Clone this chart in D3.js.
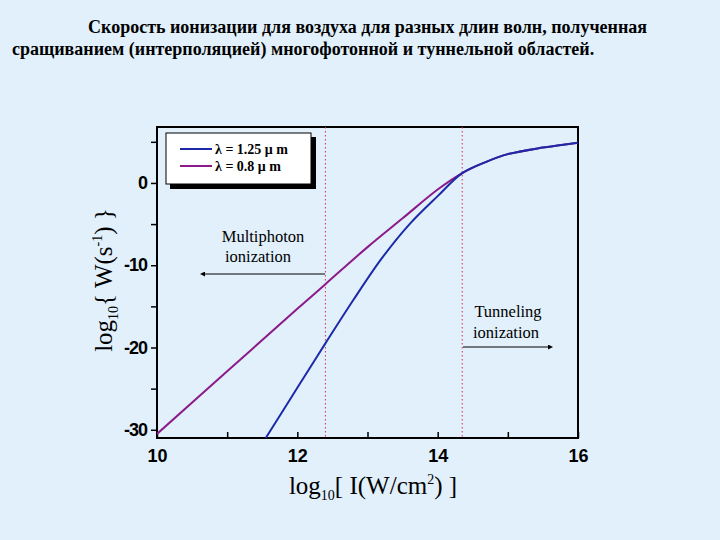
<!DOCTYPE html><html><head><meta charset="utf-8">
<script src="https://cdn.jsdelivr.net/npm/d3@7"></script>
<style>body{margin:0;background:#e1f0fb}</style></head><body>
<svg id="c" width="720" height="540"></svg>
<script>
const xTicks=[10,12,14,16];
const yTicks=[0,-10,-20,-30];
const purpleX=[10,11,12,12.4,13,13.5,14,14.35,14.7,15,15.5,16];
const purpleY=[-30.5,-22.9,-15.3,-12.3,-7.8,-4.3,-0.8,1.2,2.6,3.5,4.3,4.9];
const blueX=[11.55,12,12.4,12.8,13.2,13.6,14,14.35,14.7,15,15.5,16];
const blueY=[-31,-24.9,-19.5,-14.2,-9.2,-5.0,-1.6,1.2,2.6,3.5,4.3,4.9];
const regionX=[12.4,14.35];
const svg=d3.select("#c");
svg.append("rect").attr("width",720).attr("height",540).attr("fill","#e1f0fb");
const x=d3.scaleLinear().domain([10,16]).range([157,578]);
const y=d3.scaleLinear().domain([-31,6.8]).range([438,127]);
const t=svg.append("text").attr("font-family","Liberation Serif").attr("font-weight","bold").attr("font-size",18);
t.append("tspan").attr("x",88).attr("y",33).text("Скорость ионизации для воздуха для разных длин волн, полученная");
t.append("tspan").attr("x",12).attr("y",55).text("сращиванием (интерполяцией) многофотонной и туннельной областей.");
svg.append("defs").append("clipPath").attr("id","cp").append("rect").attr("x",157).attr("y",127).attr("width",421).attr("height",311);
const gx=svg.append("g").attr("transform","translate(0,438)").call(d3.axisBottom(x).tickValues(d3.range(10,16.1,1)).tickSize(-6).tickFormat(d=>xTicks.includes(d)?d:""));
const gy=svg.append("g").attr("transform","translate(157,0)").call(d3.axisLeft(y).tickValues(d3.range(-30,6,5)).tickSize(6).tickFormat(d=>yTicks.includes(d)?d:""));
[gx,gy].forEach(g=>{g.select(".domain").remove();g.selectAll("line").attr("stroke","#000").attr("stroke-width",1.5);
g.selectAll("text").attr("font-family","Liberation Sans").attr("font-weight","bold").attr("font-size",18).attr("fill","#000");});
gx.selectAll("text").attr("dy","1.15em");
gy.selectAll("text").attr("dx","-0.05em").attr("letter-spacing","-1");
svg.append("rect").attr("x",157).attr("y",127).attr("width",421).attr("height",311).attr("fill","none").attr("stroke","#000").attr("stroke-width",2);
regionX.forEach(v=>svg.append("line").attr("x1",x(v)).attr("x2",x(v)).attr("y1",127).attr("y2",438).attr("stroke","#d03050").attr("stroke-dasharray","1.5,2.5"));
const line=d3.line().x(d=>x(d[0])).y(d=>y(d[1])).curve(d3.curveCatmullRom.alpha(0.5));
const gp=svg.append("g").attr("clip-path","url(#cp)");
gp.append("path").attr("d",line(purpleX.map((v,i)=>[v,purpleY[i]]))).attr("fill","none").attr("stroke","#8b1a8a").attr("stroke-width",2);
gp.append("path").attr("d",line(blueX.map((v,i)=>[v,blueY[i]]))).attr("fill","none").attr("stroke","#1c2aa8").attr("stroke-width",2);
svg.append("rect").attr("x",170).attr("y",137).attr("width",146).attr("height",52).attr("fill","#000");
svg.append("rect").attr("x",166).attr("y",133).attr("width",145).attr("height",51).attr("fill","#fff").attr("stroke","#000");
[["λ = 1.25 μ m","#1c2aa8"],["λ = 0.8 μ m","#8b1a8a"]].forEach((d,i)=>{
svg.append("line").attr("x1",180).attr("x2",212).attr("y1",149+i*17).attr("y2",149+i*17).attr("stroke",d[1]).attr("stroke-width",2);
svg.append("text").attr("x",215).attr("y",154+i*17).attr("font-family","Liberation Serif").attr("font-weight","bold").attr("font-size",14).text(d[0]);});
const ser=(xx,yy,s)=>svg.append("text").attr("x",xx).attr("y",yy).attr("text-anchor","middle").attr("font-family","Liberation Serif").attr("font-size",16.5).text(s);
ser(263,242,"Multiphoton");ser(258,262,"ionization");
ser(508,317,"Tunneling");ser(506,338,"ionization");
const mk=svg.append("defs").append("marker").attr("id","ar").attr("viewBox","0 0 10 10").attr("refX",0).attr("refY",5).attr("markerWidth",7).attr("markerHeight",5).attr("orient","auto-start-reverse");
mk.append("path").attr("d","M0,0L10,5L0,10z");
svg.append("line").attr("x1",325).attr("x2",205).attr("y1",274).attr("y2",274).attr("stroke","#000").attr("marker-end","url(#ar)");
svg.append("line").attr("x1",463).attr("x2",548).attr("y1",347).attr("y2",347).attr("stroke","#000").attr("marker-end","url(#ar)");
const xl=svg.append("text").attr("x",373).attr("y",494).attr("text-anchor","middle").attr("font-family","Liberation Serif").attr("font-size",25);
xl.append("tspan").text("log");xl.append("tspan").attr("font-size",14).attr("dy",6).text("10");
xl.append("tspan").attr("dy",-6).text("[ I(W/cm");xl.append("tspan").attr("font-size",14).attr("dy",-10).text("2");
xl.append("tspan").attr("dy",10).text(") ]");
const yl=svg.append("text").attr("transform","translate(112,280) rotate(-90)").attr("text-anchor","middle").attr("font-family","Liberation Serif").attr("font-size",25);
yl.append("tspan").text("log");yl.append("tspan").attr("font-size",14).attr("dy",6).text("10");
yl.append("tspan").attr("dy",-6).text("{ W(s");yl.append("tspan").attr("font-size",14).attr("dy",-10).text("-1");
yl.append("tspan").attr("dy",10).text(") }");
</script></body></html>
